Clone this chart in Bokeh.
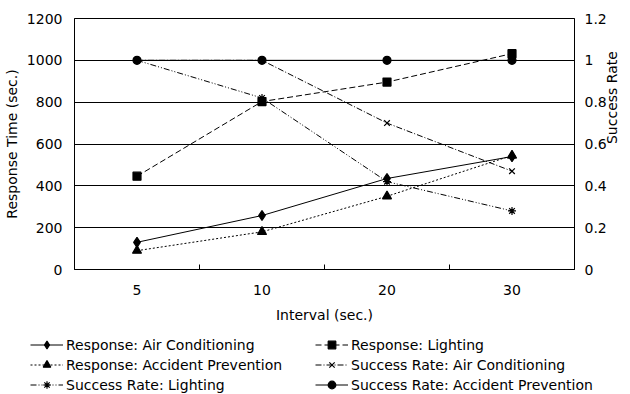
import math
from bokeh.plotting import figure
from bokeh.models import (Range1d, LinearAxis, FixedTicker, CustomJSTickFormatter,
                          NumeralTickFormatter, Legend, LegendItem)
from bokeh.embed import file_html
from bokeh.resources import INLINE

# ---- data ----
intervals = ["5", "10", "20", "30"]
resp_air = [130, 258, 435, 540]
resp_light = [446, 803, 896, 1032]
resp_accident = [90, 180, 350, 545]
rate_air = [1.0, 1.0, 0.70, 0.47]
rate_light = [1.0, 0.82, 0.42, 0.28]
rate_accident = [1.0, 1.0, 1.0, 1.0]
left_ticks = [0, 200, 400, 600, 800, 1000, 1200]
right_ticks = [0, 0.2, 0.4, 0.6, 0.8, 1.0, 1.2]

FONT = "DejaVu Sans"
W = 630
xs = [i + 0.5 for i in range(len(intervals))]

p = figure(width=W, height=325, output_backend="svg", toolbar_location=None,
           x_range=Range1d(0, len(intervals)), y_range=Range1d(0, 1200),
           min_border_left=66, min_border_right=48, min_border_top=18,
           min_border_bottom=54)
p.extra_y_ranges = {"rate": Range1d(0, 1.2)}
p.outline_line_color = "black"
p.outline_line_width = 1
p.background_fill_color = "white"
p.border_fill_color = "white"

# x axis
xa = p.xaxis[0]
xa.ticker = FixedTicker(ticks=xs, minor_ticks=[1, 2, 3])
xa.formatter = CustomJSTickFormatter(args=dict(labels=intervals),
                                     code="return labels[Math.floor(tick)]")
xa.major_tick_in = 0
xa.major_tick_out = 0
xa.minor_tick_in = 5
xa.minor_tick_out = 0
xa.minor_tick_line_color = "black"
xa.axis_line_color = "black"
xa.axis_label = "Interval (sec.)"
xa.major_label_standoff = 15
xa.axis_label_standoff = 9

# left axis
ya = p.yaxis[0]
ya.ticker = FixedTicker(ticks=left_ticks)
ya.major_tick_in = 0
ya.major_tick_out = 0
ya.minor_tick_line_color = None
ya.axis_line_color = "black"
ya.axis_label = "Response Time (sec.)"
ya.major_label_standoff = 12
ya.axis_label_standoff = 4

# right axis
ra = LinearAxis(y_range_name="rate", ticker=FixedTicker(ticks=right_ticks),
                formatter=NumeralTickFormatter(format="0.[0]"))
ra.major_tick_in = 0
ra.major_tick_out = 0
ra.minor_tick_line_color = None
ra.axis_line_color = "black"
ra.axis_label = "Success Rate"
ra.axis_label_orientation = math.pi / 2
ra.major_label_standoff = 10
ra.axis_label_standoff = 2
p.add_layout(ra, "right")

for ax in [xa, ya, ra]:
    ax.major_label_text_font = FONT
    ax.major_label_text_font_size = "14px"
    ax.major_label_text_color = "black"
    ax.axis_label_text_font = FONT
    ax.axis_label_text_font_size = "14px"
    ax.axis_label_text_font_style = "normal"
    ax.axis_label_text_color = "black"

p.xgrid.grid_line_color = None
p.ygrid.grid_line_color = "black"
p.ygrid.grid_line_width = 1

series = [
    ("Response: Air Conditioning", resp_air, "default", "solid", "diamond", 10),
    ("Response: Lighting", resp_light, "default", "6 3", "square", 8),
    ("Response: Accident Prevention", resp_accident, "default", "2 2", "triangle", 9),
    ("Success Rate: Air Conditioning", rate_air, "rate", "6 2 1 2", "x", 8),
    ("Success Rate: Lighting", rate_light, "rate", "6 2 1 2 1 2", "asterisk", 8),
    ("Success Rate: Accident Prevention", rate_accident, "rate", "solid", "circle", 8),
]

for name, ys, rng, dash, marker, size in series:
    p.line(xs, ys, y_range_name=rng, line_color="black", line_width=1,
           line_dash=dash)
    p.scatter(xs, ys, y_range_name=rng, marker=marker, size=size,
              fill_color="black", line_color="black", line_width=1.2)

# ---- legend strip: a second root whose frame spans its whole width ----
LH = 69
lg = figure(width=W, height=LH, output_backend="svg", toolbar_location=None,
            x_range=Range1d(100, 101), y_range=Range1d(-2000, -1999),
            x_axis_type=None, y_axis_type=None,
            min_border_left=0, min_border_right=0, min_border_top=0,
            min_border_bottom=0)
lg.outline_line_color = None
lg.xgrid.grid_line_color = None
lg.ygrid.grid_line_color = None

items = []
for name, ys, rng, dash, marker, size in series:
    # same series, kept outside the strip's visible range: only the legend shows
    l = lg.line(xs, ys, line_color="black", line_width=1, line_dash=dash)
    s = lg.scatter(xs, ys, marker=marker, size=size, fill_color="black",
                   line_color="black", line_width=1.2)
    items.append(LegendItem(label=name, renderers=[l, s]))

legend = Legend(items=items, orientation="horizontal", ncols=2,
                location=(30, 0))
legend.label_text_font = FONT
legend.label_text_font_size = "14px"
legend.label_text_color = "black"
legend.glyph_width = 33
legend.glyph_height = 19
legend.label_height = 19
legend.label_width = 248
legend.label_standoff = 3
legend.spacing = 1
legend.padding = 0
legend.margin = 0
legend.border_line_color = None
legend.background_fill_alpha = 0
lg.add_layout(legend, "center")

open("out.html", "w").write(file_html([p, lg], INLINE))
